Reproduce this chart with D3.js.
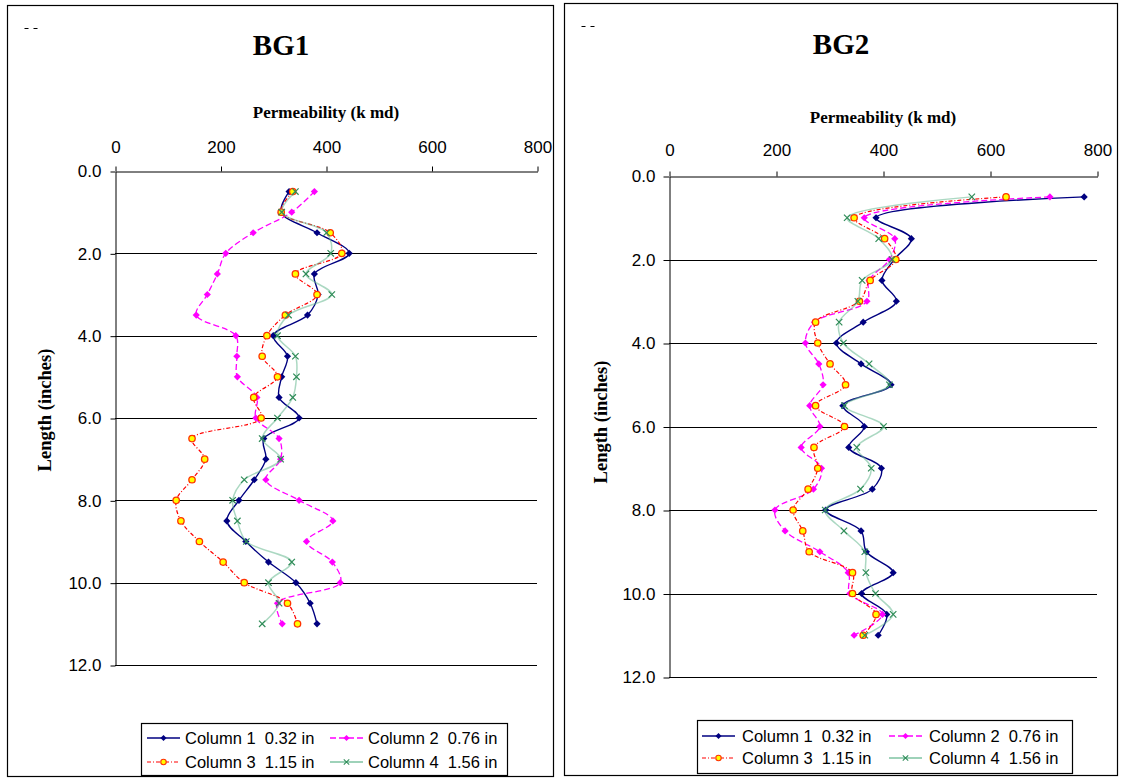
<!DOCTYPE html>
<html>
<head>
<meta charset="utf-8">
<script src="https://cdn.jsdelivr.net/npm/d3@7"></script>
<style>
  body { margin: 0; background: #fff; }
  svg text { font-family: "Liberation Sans", Arial, sans-serif; }
</style>
</head>
<body>
<svg id="chart" width="1123" height="778"></svg>
<script>
// Sample positions along the core (inches)
const depths = [0.5, 1.0, 1.5, 2.0, 2.5, 3.0, 3.5, 4.0, 4.5, 5.0, 5.5,
                6.0, 6.5, 7.0, 7.5, 8.0, 8.5, 9.0, 9.5, 10.0, 10.5, 11.0];

const permTicks = [0, 200, 400, 600, 800];
const depthTicks = [0, 2, 4, 6, 8, 10, 12];
const seriesNames = ["Column 1  0.32 in", "Column 2  0.76 in",
                     "Column 3  1.15 in", "Column 4  1.56 in"];

// BG1 permeability (k md) per column
const bg1Col1 = [330, 315, 383, 444, 378, 385, 365, 300, 327, 316, 311, 349, 282, 286, 264, 235, 212, 248, 291, 343, 370, 383];
const bg1Col2 = [378, 335, 262, 210, 194, 175, 154, 229, 231, 232, 269, 267, 311, 314, 286, 349, 413, 363, 412, 427, 308, 317];
const bg1Col3 = [337, 315, 408, 430, 342, 383, 323, 288, 279, 308, 263, 277, 146, 170, 146, 116, 125, 160, 205, 245, 327, 346];
const bg1Col4 = [342, 316, 401, 409, 362, 411, 329, 308, 342, 344, 337, 308, 279, 314, 245, 223, 232, 249, 335, 291, 311, 279];

// BG2 permeability (k md) per column
const bg2Col1 = [776, 387, 453, 421, 398, 425, 363, 313, 359, 415, 325, 365, 336, 397, 380, 293, 359, 369, 419, 360, 407, 391];
const bg2Col2 = [712, 365, 422, 412, 374, 370, 272, 255, 280, 288, 263, 282, 247, 285, 270, 198, 217, 282, 335, 338, 399, 346];
const bg2Col3 = [630, 346, 403, 424, 376, 356, 274, 278, 301, 330, 274, 328, 271, 278, 260, 232, 250, 262, 343, 343, 387, 363];
const bg2Col4 = [566, 333, 392, 417, 361, 353, 318, 326, 374, 412, 328, 401, 351, 378, 358, 292, 327, 366, 368, 386, 419, 366];

// Line / marker look for each column
const styles = [
  { stroke: "#000080", width: 1.4, dash: null,       marker: "diamond", fill: "#000080", mstroke: "#000080", opacity: 1 },
  { stroke: "#FF00FF", width: 1.3, dash: "6,3",      marker: "diamond", fill: "#FF00FF", mstroke: "#FF00FF", opacity: 1 },
  { stroke: "#FF0000", width: 1.2, dash: "4,2,1,2",  marker: "circle",  fill: "#FFFF00", mstroke: "#FF3300", opacity: 1 },
  { stroke: "#66B890", width: 1.5, dash: null,       marker: "x",       fill: "none",    mstroke: "#2E8B57", opacity: 0.55 }
];

const svg = d3.select("#chart");

function drawMarker(g, kind, st) {
  if (kind === "diamond") {
    g.append("path").attr("d", "M0,-3.6L3.6,0L0,3.6L-3.6,0Z")
      .attr("fill", st.fill).attr("stroke", "none");
  } else if (kind === "circle") {
    g.append("circle").attr("r", 3.2)
      .attr("fill", st.fill).attr("stroke", st.mstroke).attr("stroke-width", 1.3);
  } else {
    g.append("path").attr("d", "M-3.2,-3.2L3.2,3.2M-3.2,3.2L3.2,-3.2")
      .attr("fill", "none").attr("stroke", st.mstroke).attr("stroke-width", 1.2);
  }
}

function drawPanel(p) {
  const g = svg.append("g");

  // frame
  g.append("rect").attr("x", p.box[0]).attr("y", p.box[1])
    .attr("width", p.box[2]).attr("height", p.box[3])
    .attr("fill", "#fff").attr("stroke", "#000").attr("stroke-width", 1.2);

  // small corner dashes
  [0, 9].forEach(dx => {
    g.append("line").attr("x1", p.box[0] + 17 + dx).attr("x2", p.box[0] + 21 + dx)
      .attr("y1", p.box[1] + 23).attr("y2", p.box[1] + 23)
      .attr("stroke", "#000").attr("stroke-width", 1);
  });

  const x = d3.scaleLinear().domain([0, 800]).range([p.left, p.right]);
  const y = d3.scaleLinear().domain([0, 12]).range([p.top, p.bottom]);

  // horizontal gridlines
  g.append("g").selectAll("line").data(depthTicks.filter(d => d > 0)).join("line")
    .attr("x1", x(0)).attr("x2", x(800))
    .attr("y1", d => Math.round(y(d)) + 0.5).attr("y2", d => Math.round(y(d)) + 0.5)
    .attr("stroke", "#000").attr("stroke-width", 1);

  // top x axis
  const xa = g.append("g").attr("transform", `translate(0.5,${Math.round(p.top) + 0.5})`)
    .call(d3.axisTop(x).tickValues(permTicks).tickSize(5).tickSizeOuter(0).tickPadding(p.xPad));
  // left y axis
  const ya = g.append("g").attr("transform", `translate(${Math.round(p.left) + 0.5},0.5)`)
    .call(d3.axisLeft(y).tickValues(depthTicks).tickFormat(d3.format(".1f"))
      .tickSize(p.yTick).tickSizeOuter(0).tickPadding(p.yPad));
  [xa, ya].forEach(a => {
    a.attr("font-family", null).attr("font-size", null);
    a.selectAll("text").attr("font-size", 17).attr("fill", "#000");
    a.selectAll("line, path").attr("stroke", "#000");
  });

  // titles
  g.append("text").attr("x", p.titleX).attr("y", p.titleY).attr("text-anchor", "middle")
    .style("font-family", "'Liberation Serif', 'Times New Roman', serif")
    .attr("font-weight", "bold").attr("font-size", 29).text(p.name);
  g.append("text").attr("x", (p.left + p.right) / 2).attr("y", p.axisTitleY).attr("text-anchor", "middle")
    .style("font-family", "'Liberation Serif', 'Times New Roman', serif")
    .attr("font-weight", "bold").attr("font-size", 17).text("Permeability (k md)");
  g.append("text")
    .attr("transform", `translate(${p.yTitleX},${p.yTitleY}) rotate(-90)`)
    .attr("text-anchor", "middle")
    .style("font-family", "'Liberation Serif', 'Times New Roman', serif")
    .attr("font-weight", "bold").attr("font-size", 18.5).text("Length (inches)");

  // series
  const line = d3.line().x(d => x(d[1])).y(d => y(d[0])).curve(d3.curveCatmullRom.alpha(0.5));
  p.series.forEach((vals, i) => {
    const st = styles[i];
    const pts = depths.map((d, k) => [d, vals[k]]);
    g.append("path").datum(pts).attr("d", line)
      .attr("fill", "none").attr("stroke", st.stroke).attr("stroke-width", st.width)
      .attr("stroke-opacity", st.opacity)
      .attr("stroke-dasharray", st.dash);
    const mg = g.append("g");
    pts.forEach(pt => {
      const m = mg.append("g").attr("transform", `translate(${x(pt[1])},${y(pt[0])})`);
      drawMarker(m, st.marker, st);
    });
  });

  // legend
  const L = p.legend;
  const lg = g.append("g");
  lg.append("rect").attr("x", L.x + 0.5).attr("y", L.y + 0.5).attr("width", L.w).attr("height", L.h)
    .attr("fill", "#fff").attr("stroke", "#000").attr("stroke-width", 1.2);
  seriesNames.forEach((name, i) => {
    const st = styles[i];
    const col = i % 2, row = Math.floor(i / 2);
    const sx = L.x + L.colX[col];
    const cy = L.y + L.rowY[row];
    lg.append("line").attr("x1", sx).attr("x2", sx + L.sample)
      .attr("y1", cy).attr("y2", cy)
      .attr("stroke", st.stroke).attr("stroke-width", st.width)
      .attr("stroke-opacity", Math.max(st.opacity, 0.85))
      .attr("stroke-dasharray", st.dash);
    drawMarker(lg.append("g")
      .attr("transform", `translate(${sx + L.sample / 2},${cy}) scale(0.85)`), st.marker, st);
    lg.append("text").attr("x", sx + L.sample + L.gap).attr("y", cy + 6)
      .attr("font-size", 16.5).style("white-space", "pre").text(name);
  });
}

drawPanel({
  name: "BG1",
  series: [bg1Col1, bg1Col2, bg1Col3, bg1Col4],
  box: [7.5, 5.5, 546, 771],
  left: 115, right: 537, top: 171, bottom: 665,
  xPad: 14, yTick: 5, yPad: 9,
  titleX: 281, titleY: 55, axisTitleY: 118,
  yTitleX: 51, yTitleY: 410,
  legend: { x: 141, y: 723, w: 366, h: 52, colX: [6, 189], rowY: [15, 39], sample: 33, gap: 5 }
});

drawPanel({
  name: "BG2",
  series: [bg2Col1, bg2Col2, bg2Col3, bg2Col4],
  box: [564.5, 3.5, 553, 772],
  left: 669, right: 1097, top: 176, bottom: 677,
  xPad: 16, yTick: 6, yPad: 8,
  titleX: 841, titleY: 54, axisTitleY: 123,
  yTitleX: 607, yTitleY: 422,
  legend: { x: 697, y: 720, w: 375, h: 53, colX: [5, 192], rowY: [16, 38], sample: 33, gap: 7 }
});
</script>
</body>
</html>
